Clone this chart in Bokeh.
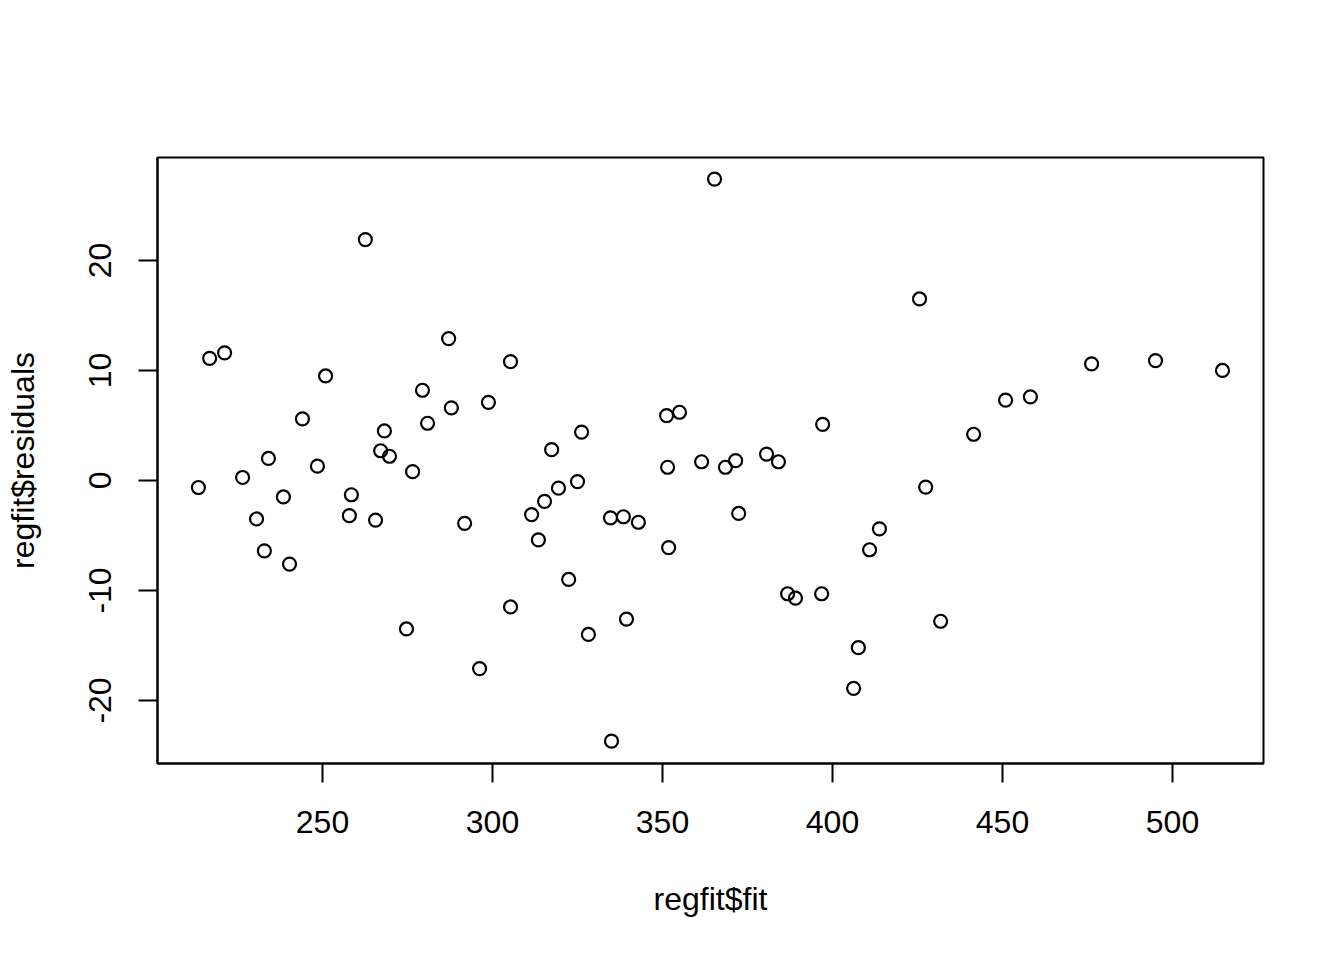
from bokeh.plotting import figure
from bokeh.embed import file_html
from bokeh.resources import INLINE
from bokeh.models import FixedTicker

fitted = [213.5, 216.8, 221.2, 226.5, 230.6, 232.9, 234.1, 238.5, 240.3, 244.1,
          248.5, 250.9, 257.9, 258.5, 262.6, 265.6, 267.1, 268.2, 269.7, 274.7,
          276.5, 279.4, 280.9, 287.1, 287.9, 291.8, 296.2, 298.8, 305.3, 305.3,
          311.5, 313.5, 315.3, 317.4, 319.4, 322.4, 325.0, 326.2, 328.2, 334.7,
          335.0, 338.5, 339.4, 342.9, 351.2, 351.5, 351.8, 355.0, 361.5, 365.3,
          368.5, 371.5, 372.4, 380.6, 384.1, 386.8, 389.1, 396.8, 397.1, 406.2,
          407.6, 410.9, 413.8, 425.6, 427.4, 431.8, 441.5, 450.9, 458.2, 476.2,
          495.0, 514.7]
residuals = [-0.64, 11.1, 11.6, 0.27, -3.5, -6.4, 2.0, -1.5, -7.6, 5.6,
             1.3, 9.5, -3.2, -1.3, 21.9, -3.6, 2.7, 4.5, 2.2, -13.5,
             0.8, 8.2, 5.2, 12.9, 6.6, -3.9, -17.1, 7.1, 10.8, -11.5,
             -3.1, -5.4, -1.9, 2.8, -0.7, -9.0, -0.1, 4.4, -14.0, -3.4,
             -23.7, -3.3, -12.6, -3.8, 5.9, 1.2, -6.1, 6.2, 1.7, 27.4,
             1.2, 1.8, -3.0, 2.4, 1.7, -10.3, -10.7, -10.3, 5.1, -18.9,
             -15.2, -6.3, -4.4, 16.5, -0.6, -12.8, 4.2, 7.3, 7.6, 10.6,
             10.9, 10.0]
x_ticks = [250, 300, 350, 400, 450, 500]
y_ticks = [-20, -10, 0, 10, 20]

FONT = "Liberation Sans"

p = figure(frame_width=1106, frame_height=606,
           x_range=(201.47, 526.76), y_range=(-25.73, 29.36),
           min_border_left=157, min_border_right=81,
           min_border_top=157, min_border_bottom=197,
           output_backend="svg", toolbar_location=None,
           x_axis_label="regfit$fit", y_axis_label="regfit$residuals")

p.scatter(fitted, residuals, marker="circle", size=13, fill_color=None,
          line_color="black", line_width=2.2)

p.xgrid.visible = False
p.ygrid.visible = False
p.outline_line_color = "black"
p.outline_line_width = 2
p.outline_line_alpha = 1
p.background_fill_color = "white"
p.border_fill_color = "white"

p.xaxis.ticker = FixedTicker(ticks=x_ticks)
p.yaxis.ticker = FixedTicker(ticks=y_ticks)
p.xaxis.major_label_overrides = {t: str(t) for t in x_ticks}
p.yaxis.major_label_overrides = {t: str(t) for t in y_ticks}
p.yaxis.major_label_orientation = "vertical"

for ax in (p.xaxis, p.yaxis):
    ax.axis_line_color = "black"
    ax.axis_line_width = 2
    ax.major_tick_line_color = "black"
    ax.major_tick_line_width = 2
    ax.major_tick_out = 19
    ax.major_tick_in = 0
    ax.minor_tick_line_color = None
    ax.major_label_text_font = FONT
    ax.major_label_text_font_size = "32px"
    ax.major_label_text_color = "black"
    ax.axis_label_text_font = FONT
    ax.axis_label_text_font_size = "32px"
    ax.axis_label_text_font_style = "normal"
    ax.axis_label_text_color = "black"

p.xaxis.major_label_standoff = 28
p.yaxis.major_label_standoff = 27
p.xaxis.axis_label_standoff = 45
p.yaxis.axis_label_standoff = 46

open("out.html", "w").write(file_html(p, INLINE))
